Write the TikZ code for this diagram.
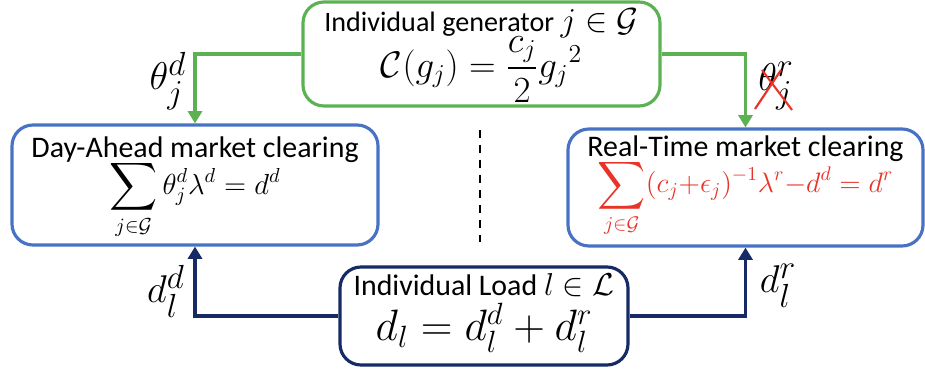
\RequirePackage{fix-cm}
\documentclass[tikz,border=0pt]{standalone}
\usepackage{amsmath}
\usepackage{graphicx}
\usepackage{fontspec}
\setsansfont{Carlito}
\usepackage{xcolor}
\usetikzlibrary{positioning,calc,arrows.meta}

% larger scripts for the side labels
\DeclareMathSizes{22}{22}{19}{15}

\definecolor{gengreen}{RGB}{92,178,82}
\definecolor{mktblue}{RGB}{72,114,196}
\definecolor{loadnavy}{RGB}{22,42,102}
\definecolor{rtred}{RGB}{232,52,40}

\newcommand{\fsz}[1]{\fontsize{#1}{#1}\selectfont}
% a slightly larger summation sign
\newcommand{\gsum}{\mathop{\vcenter{\hbox{\scalebox{1.1}{$\displaystyle\sum$}}}}\limits}

\begin{document}
\begin{tikzpicture}[
  box/.style={draw, rounded corners=0.42cm, line width=1.8pt},
  title/.style={anchor=base, inner sep=0pt, font=\sffamily\fsz{17}},
  formula/.style={anchor=base, inner sep=0pt},
  flow/.style={line width=1.8pt, -{Triangle[length=7pt,width=8pt]}},
  lbl/.style={font=\fsz{22}}
]
\useasboundingbox (0,0) rectangle (18.5,-7.5);

% Generator
\node[box, draw=gengreen, minimum width=7.14cm, minimum height=2.08cm] (gen) at (9.63,-1.08) {};
\node[title, font=\sffamily\fsz{16}] (gen-t) at ($(gen.north)+(0,-0.62)$) {Individual generator \fsz{19}$j\in\mathcal{G}$};
\node[formula, font=\fsz{21}] (gen-f) at ($(gen.north)+(0,-1.54)$) {$\displaystyle\mathcal{C}(g_j)=\frac{c_j}{2}{g_j}^2$};

% Markets
\node[box, draw=mktblue, minimum width=7.32cm, minimum height=2.4cm] (da) at (3.9,-3.7) {};
\node[title] (da-t) at ($(da.north)+(0,-0.68)$) {Day-Ahead market clearing};
\node[formula, font=\fsz{16.5}] (da-f) at ($(da.north)+(0,-1.42)$) {$\displaystyle\gsum_{j\in\mathcal{G}}\theta_j^d\lambda^d=d^d$};

\node[box, draw=mktblue, minimum width=7.1cm, minimum height=2.34cm] (rt) at (14.91,-3.75) {};
\node[title] (rt-t) at ($(rt.north)+(0,-0.58)$) {Real-Time market clearing};
\node[formula, font=\fsz{16}, text=rtred] (rt-f) at ($(rt.north)+(0,-1.3)$) {$\displaystyle\gsum_{j\in\mathcal{G}}(c_j{+}\epsilon_j)^{-1}\lambda^r{-}d^d=d^r$};

% Load
\node[box, draw=loadnavy, minimum width=5.76cm, minimum height=1.96cm] (load) at (9.68,-6.32) {};
\node[title] (load-t) at ($(load.north)+(0,-0.6)$) {Individual Load \fsz{18}$l\in\mathcal{L}$};
\node[formula, font=\fsz{25}] (load-f) at ($(load.north)+(0,-1.5)$) {$d_l=d_l^d+d_l^r$};

% Separator
\coordinate (sep1) at (9.6,-2.6);
\coordinate (sep2) at (9.6,-4.9);
\draw[line width=1.2pt, dash pattern=on 4.5pt off 4pt] (sep1) -- (sep2);

% Generator connections
\draw[flow, gengreen] (gen.west) -| (da.north);
\draw[flow, gengreen] (gen.east) -| (rt.north);
\node[lbl] (thd) at (3.36,-1.62) {$\theta_j^d$};
\node[lbl] (thr) at (15.52,-1.72) {$\theta_j^r$};
\draw[rtred, line width=1.2pt] ($(thr)+(-0.42,-0.46)$) -- ($(thr)+(0.1,0.32)$);
\draw[rtred, line width=1.2pt] ($(thr)+(-0.28,0.32)$) -- ($(thr)+(0.32,-0.48)$);

% Load connections
\draw[flow, loadnavy] (load.west) -| (da.south);
\draw[flow, loadnavy] (load.east) -| (rt.south);
\node[lbl] (dld) at (3.32,-5.82) {$d_l^d$};
\node[lbl] (dlr) at (15.56,-5.72) {$d_l^r$};

\end{tikzpicture}
\end{document}
